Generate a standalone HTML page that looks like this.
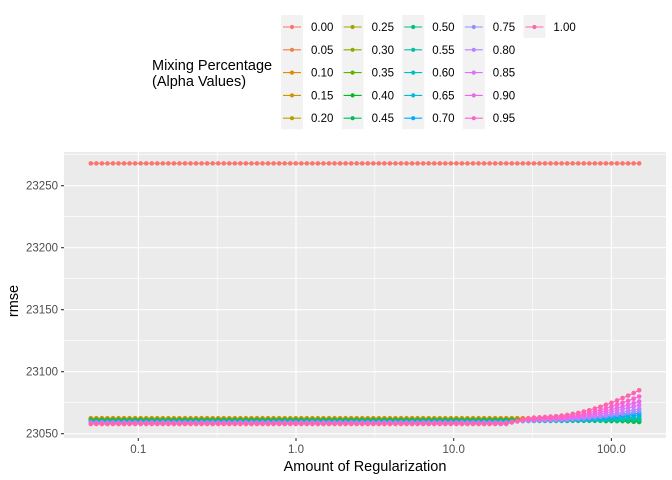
<!DOCTYPE html>
<html><head><meta charset="utf-8"><style>
body{margin:0;background:#fff}
svg{display:block;font-family:"Liberation Sans",Arial,sans-serif}
</style></head><body>
<svg id="chart" width="672" height="480" viewBox="0 0 672 480"></svg>
<script>
// ---- data ----
const alphaLabels=["0.00","0.05","0.10","0.15","0.20","0.25","0.30","0.35","0.40","0.45","0.50","0.55","0.60","0.65","0.70","0.75","0.80","0.85","0.90","0.95","1.00"];
const colors=["#F8766D","#EE8044","#E18A00","#D09400","#BB9D00","#A3A500","#85AD00","#5BB300","#00B81F","#00BC56","#00BF7D","#00C19F","#00C0BD","#00BCD8","#00A9FF","#8F91FF","#B983FF","#D874FD","#EE67EB","#FC61D2","#FF65AE"];
const nPoints=100;
const lambdaMin=0.05, lambdaMax=150;
// flat rmse for first 75 lambdas, per alpha
const flatValues=[23268,23062.5,23062.3,23062,23061.8,23061.5,23061.3,23061,23060.8,23060.5,23060.3,23060,23059.8,23059.5,23059.3,23059,23058.8,23058.5,23058.3,23058,23057.8];
// rmse for last 25 lambdas, per alpha
const tailValues=[
[23268,23268,23268,23268,23268,23268,23268,23268,23268,23268,23268,23268,23268,23268,23268,23268,23268,23268,23268,23268,23268,23268,23268,23268,23268],
[23062.5,23062.5,23062.5,23062.5,23062.5,23062.5,23062.5,23062.5,23062.5,23062.5,23062.5,23062.5,23062.4,23062.4,23062.4,23062.4,23062.4,23062.4,23062.3,23062.3,23062.3,23062.3,23062.1,23062,23062],
[23062.3,23062.3,23062.3,23062.3,23062.3,23062.3,23062.3,23062.3,23062.3,23062.3,23062.3,23062.3,23062.2,23062.2,23062.2,23062.2,23062.2,23062.2,23062.1,23062.1,23062.1,23062.1,23062.1,23062,23062],
[23062,23062,23062,23062,23062,23062,23062,23062,23062,23062,23062,23062,23061.9,23061.9,23061.9,23061.9,23061.9,23061.9,23061.8,23061.8,23061.8,23061.8,23061.7,23061.6,23061.5],
[23061.8,23061.8,23061.8,23061.8,23061.8,23061.8,23061.8,23061.8,23061.8,23061.8,23061.8,23061.8,23061.7,23061.7,23061.7,23061.7,23061.7,23061.7,23061.6,23061.6,23061.6,23061.6,23061.6,23061.5,23061.5],
[23061.5,23061.5,23061.5,23061.5,23061.5,23061.5,23061.5,23061.5,23061.5,23061.5,23061.5,23061.5,23061.4,23061.4,23061.4,23061.4,23061.4,23061.4,23061.3,23061.3,23061.3,23061.3,23061.2,23061.1,23061],
[23061.3,23061.3,23061.3,23061.3,23061.3,23061.3,23061.3,23061.3,23061.2,23061.2,23061.2,23061.2,23061,23061,23061,23061,23061,23061,23060.7,23060.7,23060.7,23060.7,23060.4,23060.2,23060],
[23061,23061,23061,23061,23061,23061,23061,23061,23060.9,23060.9,23060.9,23060.9,23060.7,23060.7,23060.7,23060.7,23060.7,23060.7,23060.3,23060.3,23060.3,23060.3,23060,23059.7,23059.5],
[23060.8,23060.8,23060.8,23060.8,23060.8,23060.8,23060.8,23060.8,23060.7,23060.7,23060.7,23060.7,23060.5,23060.5,23060.5,23060.5,23060.5,23060.5,23060.2,23060.2,23060.2,23060.2,23059.9,23059.7,23059.5],
[23060.5,23060.5,23060.5,23060.5,23060.5,23060.5,23060.5,23060.5,23060.5,23060.5,23060.5,23060.5,23060.4,23060.4,23060.4,23060.4,23060.4,23060.4,23060.3,23060.3,23060.3,23060.3,23060.1,23060,23060],
[23060.3,23060.3,23060.3,23060.3,23060.3,23060.3,23060.3,23060.3,23060.3,23060.3,23060.3,23060.3,23060.5,23060.5,23060.5,23060.5,23060.5,23060.5,23060.7,23060.7,23060.7,23060.7,23060.8,23060.9,23061],
[23060,23060.1,23060.2,23060.3,23060.3,23060.4,23060.4,23060.4,23060.4,23060.5,23060.5,23060.5,23060.6,23060.7,23060.7,23060.8,23060.9,23061,23061.1,23061.3,23061.4,23061.5,23061.7,23061.8,23062],
[23059.8,23060,23060.2,23060.3,23060.4,23060.5,23060.5,23060.6,23060.6,23060.7,23060.7,23060.8,23060.9,23061,23061.2,23061.3,23061.5,23061.7,23061.9,23062.1,23062.4,23062.7,23062.9,23063.2,23063.5],
[23059.5,23059.8,23060.1,23060.3,23060.4,23060.6,23060.6,23060.7,23060.7,23060.8,23060.9,23061,23061.2,23061.3,23061.5,23061.8,23062,23062.3,23062.6,23063,23063.4,23063.7,23064.1,23064.6,23065],
[23059.3,23059.7,23060,23060.3,23060.5,23060.7,23060.7,23060.8,23060.9,23061,23061.1,23061.2,23061.5,23061.7,23062,23062.3,23062.6,23063,23063.4,23063.8,23064.3,23064.8,23065.4,23065.9,23066.5],
[23059,23059.5,23059.9,23060.3,23060.5,23060.7,23060.8,23060.9,23061,23061.1,23061.3,23061.4,23061.7,23062,23062.3,23062.7,23063.1,23063.6,23064.1,23064.7,23065.3,23065.9,23066.6,23067.3,23068],
[23058.8,23059.4,23059.9,23060.4,23060.7,23060.9,23061,23061.2,23061.3,23061.4,23061.6,23061.8,23062.2,23062.5,23062.9,23063.4,23064,23064.5,23065.2,23065.9,23066.6,23067.4,23068.2,23069.1,23070],
[23058.5,23059.2,23060,23060.5,23061,23061.3,23061.4,23061.6,23061.7,23061.8,23062.1,23062.4,23062.9,23063.3,23063.9,23064.5,23065.2,23065.9,23066.8,23067.6,23068.7,23069.7,23070.7,23071.8,23073],
[23058.3,23059.2,23060.1,23060.8,23061.3,23061.7,23061.8,23062,23062.2,23062.4,23062.7,23063.1,23063.6,23064.1,23064.9,23065.6,23066.4,23067.3,23068.4,23069.5,23070.7,23071.9,23073.2,23074.6,23076],
[23058,23059.1,23060.2,23061.1,23061.7,23062.2,23062.4,23062.6,23062.8,23063.1,23063.5,23063.9,23064.6,23065.3,23066.1,23067,23068.1,23069.2,23070.5,23071.9,23073.4,23074.9,23076.5,23078.2,23080],
[23057.8,23059.2,23060.5,23061.6,23062.4,23063,23063.2,23063.5,23063.8,23064.1,23064.6,23065.1,23066,23066.8,23067.9,23069,23070.3,23071.7,23073.3,23074.9,23076.8,23078.7,23080.7,23082.8,23085]
];
const yTicks=[23050,23100,23150,23200,23250];
const yMinor=[23075,23125,23175,23225,23275];
const xTicks=[0.1,1,10,100];
const xTickLabels=["0.1","1.0","10.0","100.0"];

// ---- scales ----
const P={l:64,r:666,t:152,b:438};
const yScale=v=>185.7-(v-23250)*1.24;
const xScale=v=>296+Math.log10(v)*157.7;
const NS="http://www.w3.org/2000/svg";
const svg=document.getElementById('chart');
function mk(tag,attrs,parent){const e=document.createElementNS(NS,tag);for(const k in attrs)e.setAttribute(k,attrs[k]);(parent||svg).appendChild(e);return e;}

const panel=mk('rect',{x:P.l,y:P.t,width:P.r-P.l,height:P.b-P.t,fill:'#EBEBEB'});


// minor grid
yMinor.forEach(v=>{const y=yScale(v);if(y<P.t||y>P.b)return;const g=mk('line',{x1:P.l,x2:P.r,y1:y,y2:y,stroke:'#fff','stroke-width':0.55});

});
[-1.5,-0.5,0.5,1.5,2.5].forEach(p=>{const x=xScale(Math.pow(10,p));if(x<P.l||x>P.r)return;const g=mk('line',{x1:x,x2:x,y1:P.t,y2:P.b,stroke:'#fff','stroke-width':0.55});

});
// major grid + ticks
yTicks.forEach(v=>{const y=yScale(v);const g=mk('line',{x1:P.l,x2:P.r,y1:y,y2:y,stroke:'#fff','stroke-width':1.1});


const t=mk('line',{x1:P.l-3,x2:P.l,y1:y,y2:y,stroke:'#333','stroke-width':1.1});


const l=mk('text',{x:P.l-6,y:y+4,'text-anchor':'end','font-size':11.5,fill:'#4D4D4D'});l.textContent=v;

});
xTicks.forEach((v,i)=>{const x=xScale(v);const g=mk('line',{x1:x,x2:x,y1:P.t,y2:P.b,stroke:'#fff','stroke-width':1.1});


const t=mk('line',{x1:x,x2:x,y1:P.b,y2:P.b+3,stroke:'#333','stroke-width':1.1});


const l=mk('text',{x:x,y:P.b+15,'text-anchor':'middle','font-size':11.5,fill:'#4D4D4D'});l.textContent=xTickLabels[i];

});

// series
const lambdas=[];for(let i=0;i<nPoints;i++)lambdas.push(lambdaMin*Math.pow(lambdaMax/lambdaMin,i/(nPoints-1)));
const flatCount=nPoints-25;
alphaLabels.forEach((lab,k)=>{
  const vals=[];for(let i=0;i<nPoints;i++)vals.push(i<flatCount?flatValues[k]:tailValues[k][i-flatCount]);
  const g=mk('g',{});
  
  
  const pts=vals.map((v,i)=>xScale(lambdas[i]).toFixed(2)+','+yScale(v).toFixed(2)).join(' ');
  const pl=mk('polyline',{points:pts,fill:'none',stroke:colors[k],'stroke-width':1.1},g);
  
  
  vals.forEach((v,i)=>{const c=mk('circle',{cx:xScale(lambdas[i]),cy:yScale(v),r:2.3,fill:colors[k]},g);
  
  });
});

// axis titles
const yt=mk('text',{x:0,y:0,transform:'translate(18,301) rotate(-90)','text-anchor':'middle','font-size':14.5,fill:'#000'});yt.textContent='rmse';


const xt=mk('text',{x:365,y:471,'text-anchor':'middle','font-size':14.5,fill:'#000'});xt.textContent='Amount of Regularization';



// legend
const lt1=mk('text',{x:152,y:70,'font-size':14.5,fill:'#000'});lt1.textContent='Mixing Percentage';


const lt2=mk('text',{x:152,y:86,'font-size':14.5,fill:'#000'});lt2.textContent='(Alpha Values)';


alphaLabels.forEach((lab,k)=>{
  const col=Math.floor(k/5),row=k%5;
  const x=281+col*60.6,y=15+row*22.8;
  const g=mk('g',{});
  
  
  mk('rect',{x:x,y:y,width:22,height:23,fill:'#F2F2F2'},g);
  mk('line',{x1:x+2,x2:x+20,y1:y+12,y2:y+12,stroke:colors[k],'stroke-width':1.1},g);
  mk('circle',{cx:x+11,cy:y+12,r:2.1,fill:colors[k]},g);
  const t=mk('text',{x:x+30,y:y+16,'font-size':11.5,fill:'#000'},g);t.textContent=lab;
});
</script>
</body></html>
